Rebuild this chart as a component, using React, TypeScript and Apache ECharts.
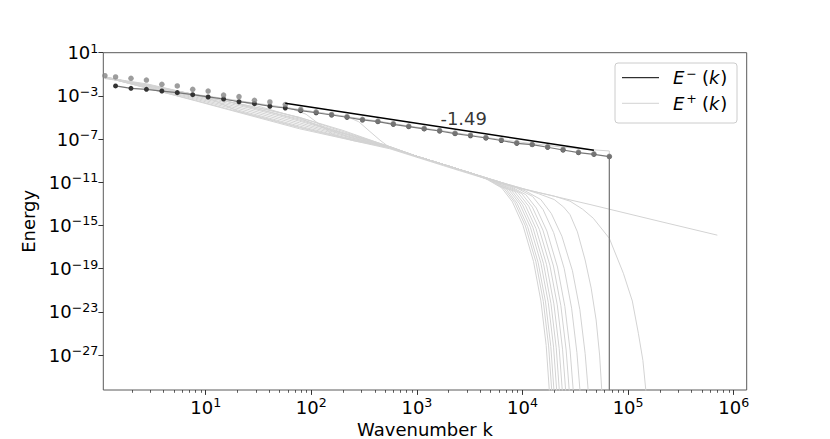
import React, { useEffect, useRef } from "react";
import * as echarts from "echarts";

const FONT = "DejaVu Sans";
const LIGHT = "#d3d3d3";

// ---- axis ranges and ticks (log10 units) ----
const X_MIN_EXP = 0.03;
const X_MAX_EXP = 6.123;
const Y_MIN_EXP = -30.24;
const Y_MAX_EXP = 1;
const xTickExps = [1, 2, 3, 4, 5, 6];
const yTickExps = [1, -3, -7, -11, -15, -19, -23, -27];
const minorMantissas = [2, 3, 4, 5, 6, 7, 8, 9];
const minorDecades = [0, 1, 2, 3, 4, 5];

// ---- shell wavenumbers (marker positions) ----
const shellK = [
  1.4, 1.96, 2.744, 3.842, 5.378, 7.53, 10.54, 14.76, 20.66, 28.93, 40.5, 56.69,
  79.37, 111.1, 155.6, 217.8, 304.9, 426.9, 597.6, 836.7, 1171, 1640, 2296, 3214,
  4500, 6300, 8820, 12348, 17287, 24201, 33882, 47435, 66409,
];
// log10 E^-(k) at the shells
const eMinusExp = [
  -2.08, -2.3, -2.39, -2.55, -2.7, -2.89, -3.1, -3.29, -3.54, -3.72, -3.96, -4.12,
  -4.37, -4.56, -4.77, -4.98, -5.23, -5.39, -5.63, -5.85, -6.06, -6.25, -6.5, -6.69,
  -6.9, -7.13, -7.39, -7.52, -7.76, -8.01, -8.26, -8.41, -8.63,
];
const eMinusCutoffExp = -40; // energy vanishes past the last shell
// E^+(k) markers (first one at k ~ 1.11)
const ePlusFirstK = 1.11;
const ePlusExp = [
  -1.13, -1.25, -1.37, -1.53, -1.93, -2.08, -2.39, -2.55, -2.92, -3.07, -3.41, -3.56,
  -3.8, -4.25, -4.48, -4.72, -4.93, -5.17, -5.34, -5.58, -5.8, -6.01, -6.2, -6.45,
  -6.64, -6.85, -7.08, -7.33, -7.48, -7.71, -7.96, -8.21, -8.36, -8.6,
];

// ---- power-law fit ----
const fitK = [56.69, 47435];
const fitExp = [-3.685, -8.04];
const fitLabel = "-1.49";
const fitLabelK = 2773;
const fitLabelExp = -5.07;

// ---- E^+(k) snapshots, points as [log10 k, log10 E] ----
const initialLog = [
  [0.046, -1.25], [0.9, -3.45], [1.89, -6.05], [2.744, -7.9], [3.345, -9.75],
  [3.661, -10.7], [3.976, -11.56], [4.639, -13.06], [5.302, -14.63], [5.845, -15.9],
];
const snapA = [
  [0.046, -1.27], [0.45, -2.3], [0.9, -3.4], [1.4, -4.7], [1.89, -5.95], [2.3, -6.9], [2.744, -7.82],
  [3.0, -8.6], [3.25, -9.35], [3.5, -10.12], [3.8, -11.02], [4.0, -11.58], [4.15, -11.94],
  [4.3, -12.28], [4.45, -12.75], [4.57, -13.5], [4.67, -14.33], [4.822, -16.19], [4.955, -19.43],
  [5.04, -22.0], [5.097, -24.98], [5.14, -27.5], [5.175, -31],
];
const snapB = [
  [0.046, -1.28], [0.45, -2.25], [0.9, -3.3], [1.4, -4.55], [1.89, -5.8], [2.3, -6.8], [2.744, -7.8],
  [3.0, -8.6], [3.25, -9.35], [3.5, -10.12], [3.8, -11.02], [4.0, -11.58],
  [4.15, -12.05], [4.3, -12.6], [4.39, -13.3], [4.45, -14.0], [4.52, -15.6], [4.593, -18.2],
  [4.65, -20.8], [4.697, -23.75], [4.73, -27], [4.755, -31],
];
const snapC = [
  [0.046, -1.3], [0.45, -2.2], [0.9, -3.2], [1.4, -4.4], [1.89, -5.65], [2.3, -6.7], [2.744, -7.78],
  [3.0, -8.6], [3.25, -9.35], [3.5, -10.12], [3.8, -11.02],
  [4.023, -11.78], [4.173, -12.6], [4.273, -13.9], [4.373, -16.0], [4.473, -19.2], [4.543, -22.8],
  [4.593, -26.85], [4.628, -31],
];
const snapD = [
  [0.046, -1.3], [0.45, -2.15], [0.9, -3.1], [1.4, -4.25], [1.89, -5.5], [2.3, -6.6], [2.744, -7.76],
  [3.0, -8.6], [3.25, -9.35], [3.5, -10.12], [3.8, -11.02],
  [3.945, -11.53], [4.095, -12.31], [4.195, -13.54], [4.295, -15.67], [4.395, -19.0], [4.465, -22.66],
  [4.515, -26.77], [4.55, -31],
];
const snapE = [
  [0.046, -1.32], [0.45, -2.1], [0.9, -3.0], [1.4, -4.1], [1.89, -5.35], [2.3, -6.5], [2.744, -7.74],
  [3.0, -8.6], [3.25, -9.35], [3.5, -10.12],
  [3.881, -11.35], [4.031, -12.15], [4.131, -13.39], [4.231, -15.52], [4.331, -18.85], [4.401, -22.51],
  [4.451, -26.62], [4.486, -31],
];
const snapF = [
  [0.046, -1.33], [0.45, -2.05], [0.9, -2.95], [1.2, -3.5], [1.6, -4.5], [1.89, -5.25], [2.3, -6.45],
  [2.744, -7.72], [3.0, -8.6], [3.25, -9.35], [3.5, -10.12],
  [3.843, -11.24], [3.993, -12.06], [4.093, -13.3], [4.193, -15.43], [4.293, -18.76], [4.363, -22.42],
  [4.413, -26.53], [4.448, -31],
];
const snapG = [
  [0.046, -1.35], [0.45, -2.0], [0.9, -2.92], [1.1, -3.25], [1.4, -4.0], [1.89, -5.15], [2.3, -6.4],
  [2.744, -7.7], [3.0, -8.6], [3.25, -9.35], [3.5, -10.12],
  [3.809, -11.15], [3.959, -11.97], [4.059, -13.22], [4.159, -15.36], [4.259, -18.69], [4.329, -22.35],
  [4.379, -26.46], [4.414, -31],
];
const snapH = [
  [0.046, -1.4], [0.45, -1.95], [0.9, -2.9], [1.4, -3.9], [1.89, -5.0], [2.3, -6.3], [2.744, -7.7],
  [3.0, -8.6], [3.25, -9.35], [3.5, -10.12],
  [3.777, -11.05], [3.927, -11.88], [4.027, -13.14], [4.127, -15.28], [4.227, -18.61], [4.297, -22.27],
  [4.347, -26.38], [4.382, -31],
];
const snapP1 = [
  [0.046, -1.25], [0.292, -1.75], [0.585, -2.3], [0.877, -2.85], [0.946, -2.98], [1.1, -3.5],
  [1.3, -4.4], [1.6, -5.15], [1.89, -5.9], [2.3, -6.85], [2.744, -7.78],
  [3.0, -8.6], [3.25, -9.35], [3.5, -10.12],
  [3.749, -10.97], [3.899, -11.8], [3.999, -13.08], [4.099, -15.22], [4.199, -18.55], [4.269, -22.21],
  [4.319, -26.32], [4.354, -31],
];
const snapP2 = [
  [0.046, -1.25], [0.292, -1.75], [0.585, -2.3], [0.877, -2.85], [1.169, -3.3], [1.353, -3.57],
  [1.55, -4.1], [1.893, -5.07], [2.1, -5.9], [2.35, -6.8], [2.744, -7.76],
  [3.0, -8.6], [3.25, -9.35], [3.5, -10.12],
  [3.724, -10.89], [3.874, -11.73], [3.974, -13.01], [4.074, -15.16], [4.174, -18.49], [4.244, -22.15],
  [4.294, -26.27], [4.329, -31],
];
const snapP3 = [
  [0.046, -1.25], [0.292, -1.75], [0.585, -2.3], [0.877, -2.85], [1.169, -3.3], [1.461, -3.72],
  [1.754, -4.1], [1.798, -4.14], [1.95, -4.7], [2.1, -5.8], [2.2, -6.55], [2.4, -7.15], [2.744, -7.78],
  [3.0, -8.6], [3.25, -9.35], [3.5, -10.12],
  [3.698, -10.81], [3.848, -11.65], [3.948, -12.94], [4.048, -15.1], [4.148, -18.44], [4.218, -22.09],
  [4.268, -26.21], [4.303, -31],
];
const snapP4 = [
  [0.046, -1.25], [0.292, -1.75], [0.585, -2.3], [0.877, -2.85], [1.169, -3.3], [1.461, -3.72],
  [1.754, -4.1], [2.046, -4.5], [2.338, -4.92], [2.45, -5.4], [2.555, -6.3], [2.65, -7.1], [2.744, -7.8],
  [3.0, -8.6], [3.25, -9.35], [3.5, -10.12],
  [3.677, -10.75], [3.827, -11.6], [3.927, -12.88], [4.027, -15.04], [4.127, -18.38], [4.197, -22.04],
  [4.247, -26.16], [4.282, -31],
];
const snapI = [
  [0.046, -1.3], [0.45, -1.9], [0.9, -2.9], [1.3, -3.7], [1.6, -4.3], [1.89, -5.0], [2.3, -6.2],
  [2.744, -7.72], [3.0, -8.6], [3.25, -9.35], [3.5, -10.12],
  [3.654, -10.68], [3.804, -11.53], [3.904, -12.81], [4.004, -14.99], [4.104, -18.33], [4.174, -21.99],
  [4.224, -26.11], [4.259, -31],
];
const snapTop = [
  [0.046, -1.25], [0.292, -1.75], [0.585, -2.3], [0.877, -2.83], [1.169, -3.23], [1.461, -3.66],
  [1.754, -4.06], [2.046, -4.5], [2.338, -4.92], [2.63, -5.33], [2.923, -5.79], [3.215, -6.19],
  [3.507, -6.63], [3.799, -7.05], [4.092, -7.42], [4.384, -7.75], [4.676, -8.0], [4.822, -8.1],
  [4.822, -40],
];

const lightCurves = [
  initialLog, snapA, snapB, snapC, snapD, snapE, snapF, snapG, snapH,
  snapP1, snapP2, snapP3, snapP4, snapI, snapTop,
];

const powLabel = (v: number) => {
  const n = Math.round(v);
  const s = n < 0 ? "\u2212" + Math.abs(n) : String(n);
  return `{b|10}{s|${s}}`;
};

const tickRich = {
  b: { fontSize: 18, fontFamily: FONT, color: "#000", lineHeight: 22 },
  s: { fontSize: 12.6, fontFamily: FONT, color: "#000", lineHeight: 13, verticalAlign: "top" as const },
};

const GRID_RECT = { left: 103.3, top: 52.7, width: 643.4, height: 337.3 };

export default function App() {
  const ref = useRef<HTMLDivElement>(null);

  useEffect(() => {
    document.body.style.margin = "0";
    if (!ref.current) return;
    const chart = echarts.init(ref.current, undefined, { renderer: "svg" });

    const minorTicks: number[] = [];
    minorDecades.forEach((d) =>
      minorMantissas.forEach((m) => {
        const v = Math.log10(m * Math.pow(10, d));
        if (v > X_MIN_EXP && v < X_MAX_EXP) minorTicks.push(v);
      })
    );

    const lightSeries = lightCurves.map((pts) => ({
      type: "line",
      data: pts,
      symbol: "none",
      showSymbol: false,
      silent: true,
      z: 1,
      lineStyle: { color: LIGHT, width: 1 },
      emphasis: { disabled: true },
    }));

    const eMinusData: any[] = shellK.map((k, i) => [Math.log10(k), eMinusExp[i]]);
    eMinusData.push({ value: [Math.log10(shellK[shellK.length - 1]), eMinusCutoffExp], symbol: "none" });

    const ePlusData = [ePlusFirstK, ...shellK].map((k, i) => [Math.log10(k), ePlusExp[i]]);

    const textStyle = { fontFamily: FONT, fontSize: 18, color: "#000" };
    const legendRich = {
      i: { fontFamily: FONT, fontSize: 18, fontStyle: "italic", fill: "#000", lineHeight: 22 },
      n: { fontFamily: FONT, fontSize: 18, fill: "#000", lineHeight: 22, padding: [0, 0, 0, 1] },
      s: { fontFamily: FONT, fontSize: 12.6, fill: "#000", lineHeight: 13, verticalAlign: "top", padding: [0, 4, 0, 2] },
    };
    const noLine = { show: false, onZero: false };

    chart.setOption({
      animation: false,
      backgroundColor: "#fff",
      grid: [
        {
          ...GRID_RECT,
          show: true,
          borderColor: "#5a5a5a",
          borderWidth: 1,
          backgroundColor: "#fff",
          containLabel: false,
          outerBoundsMode: "none",
        },
        { ...GRID_RECT, show: false, containLabel: false, outerBoundsMode: "none" },
      ],
      xAxis: [
        {
          type: "value",
          gridIndex: 0,
          min: X_MIN_EXP,
          max: X_MAX_EXP,
          position: "bottom",
          axisLine: noLine,
          splitLine: { show: false },
          axisTick: { show: true, customValues: xTickExps, length: 4.9, lineStyle: { color: "#333", width: 1 } },
          axisLabel: { customValues: xTickExps, formatter: powLabel, rich: tickRich, margin: 6 },
          name: "Wavenumber k",
          nameLocation: "middle",
          nameGap: 21,
          nameTextStyle: textStyle,
        },
        {
          type: "value",
          gridIndex: 1,
          min: X_MIN_EXP,
          max: X_MAX_EXP,
          position: "bottom",
          axisLine: noLine,
          splitLine: { show: false },
          axisLabel: { show: false },
          axisTick: { show: true, customValues: minorTicks, length: 2.8, lineStyle: { color: "#333", width: 0.8 } },
        },
      ],
      yAxis: [
        {
          type: "value",
          gridIndex: 0,
          min: Y_MIN_EXP,
          max: Y_MAX_EXP,
          position: "left",
          axisLine: noLine,
          splitLine: { show: false },
          axisTick: { show: true, customValues: yTickExps, length: 4.9, lineStyle: { color: "#333", width: 1 } },
          axisLabel: { customValues: yTickExps, formatter: powLabel, rich: tickRich, margin: 5 },
          name: "Energy",
          nameLocation: "middle",
          nameGap: 55,
          nameRotate: 90,
          nameTextStyle: textStyle,
        },
        {
          type: "value",
          gridIndex: 1,
          min: Y_MIN_EXP,
          max: Y_MAX_EXP,
          position: "left",
          axisLine: noLine,
          show: false,
        },
      ],
      series: [
        ...lightSeries,
        {
          type: "line",
          data: eMinusData,
          symbol: "circle",
          symbolSize: 5,
          z: 3,
          itemStyle: { color: "#333" },
          lineStyle: { color: "#777", width: 1.2 },
          emphasis: { disabled: true },
        },
        {
          type: "scatter",
          data: ePlusData,
          symbol: "circle",
          symbolSize: 5.5,
          z: 4,
          itemStyle: { color: "#858585" },
          emphasis: { disabled: true },
        },
        {
          type: "line",
          data: fitK.map((k, i) => [Math.log10(k), fitExp[i]]),
          symbol: "none",
          z: 5,
          lineStyle: { color: "#000", width: 1.5 },
          emphasis: { disabled: true },
        },
        {
          type: "scatter",
          data: [[Math.log10(fitLabelK), fitLabelExp]],
          symbolSize: 0.1,
          z: 6,
          itemStyle: { color: "transparent" },
          label: { show: true, position: "inside", formatter: fitLabel, ...textStyle },
          emphasis: { disabled: true },
        },
      ],
      graphic: [
        {
          type: "rect",
          z: 100,
          shape: { x: 615, y: 63, width: 122, height: 60, r: 3 },
          style: { fill: "rgba(255,255,255,0.8)", stroke: "#cccccc", lineWidth: 1 },
        },
        {
          type: "line",
          z: 101,
          shape: { x1: 622, y1: 77.7, x2: 659, y2: 77.7 },
          style: { stroke: "#000", lineWidth: 1 },
        },
        {
          type: "line",
          z: 101,
          shape: { x1: 622, y1: 103.3, x2: 659, y2: 103.3 },
          style: { stroke: LIGHT, lineWidth: 1 },
        },
        {
          type: "text",
          z: 101,
          x: 673,
          y: 77.7,
          style: {
            text: "{i|E}{s|\u2212}{n|(}{i|k}{n|)}",
            verticalAlign: "middle",
            align: "left",
            rich: legendRich,
          },
        },
        {
          type: "text",
          z: 101,
          x: 673,
          y: 103.3,
          style: {
            text: "{i|E}{s|+}{n|(}{i|k}{n|)}",
            verticalAlign: "middle",
            align: "left",
            rich: legendRich,
          },
        },
      ],
    });

    return () => chart.dispose();
  }, []);

  return <div ref={ref} style={{ width: 830, height: 439 }} />;
}
